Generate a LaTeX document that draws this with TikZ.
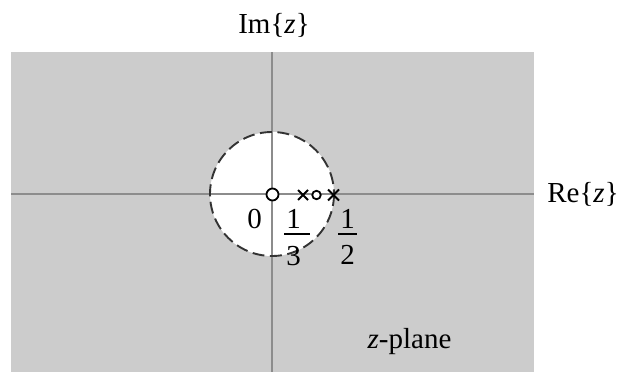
\documentclass[tikz,border=0pt]{standalone}
\usepackage{fontspec}
\setmainfont{Liberation Serif}
\usetikzlibrary{calc}
\begin{document}
\begin{tikzpicture}[x=1pt,y=-1pt,
  lbl/.style={font=\fontsize{29}{34}\selectfont, inner sep=0pt, anchor=base},
  axis/.style={draw=black!45, line width=1.6pt},
  fracbar/.style={draw=black, line width=1.3pt},
  polemark/.style={draw=black, line width=2pt},
  zeromark/.style={circle, draw=black, fill=white, line width=1.8pt, inner sep=0pt},
  roc/.style={draw=black!80, line width=1.9pt, dash pattern=on 12pt off 5.5pt}]
\useasboundingbox (0,0) rectangle (619,372);
\fill[black!20] (11,52) rectangle (534,372);
\coordinate (O) at (272,194);
\fill[white] (O) circle (62);
\coordinate (xl) at (11,194);
\coordinate (xr) at (534,194);
\coordinate (yt) at (272,52);
\coordinate (yb) at (272,372);
\draw[axis] (xl) -- (xr);
\draw[axis] (yt) -- (yb);
\draw[roc] (O) circle (62);
\node[zeromark, minimum size=12pt] (z0) at (272.5,194.5) {};
\node[zeromark, minimum size=8.5pt] (z1) at (316.5,195) {};
\coordinate (p1) at (303,195);
\coordinate (p2) at (333.5,195);
\draw[polemark] ($(p1)+(-5,-5)$) -- ($(p1)+(5,5)$) ($(p1)+(-5,5)$) -- ($(p1)+(5,-5)$);
\draw[polemark] ($(p2)+(-5.5,-5.5)$) -- ($(p2)+(5.5,5.5)$) ($(p2)+(-5.5,5.5)$) -- ($(p2)+(5.5,-5.5)$);
\node[lbl] (im) at (274,33) {Im\{\textit{z}\}};
\node[lbl] (re) at (583,202) {Re\{\textit{z}\}};
\node[lbl] (zp) at (409.5,348) {\textit{z}-plane};
\node[lbl] (l0) at (254.5,228) {0};
\node[lbl] (n3) at (293.5,228) {1};
\node[lbl] (d3) at (293.5,265) {3};
\coordinate (b3l) at (284,234);
\coordinate (b3r) at (310,234);
\draw[fracbar] (b3l) -- (b3r);
\node[lbl] (n2) at (347.5,228) {1};
\node[lbl] (d2) at (347.5,264) {2};
\coordinate (b2l) at (338,234);
\coordinate (b2r) at (357,234);
\draw[fracbar] (b2l) -- (b2r);
\end{tikzpicture}
\end{document}
